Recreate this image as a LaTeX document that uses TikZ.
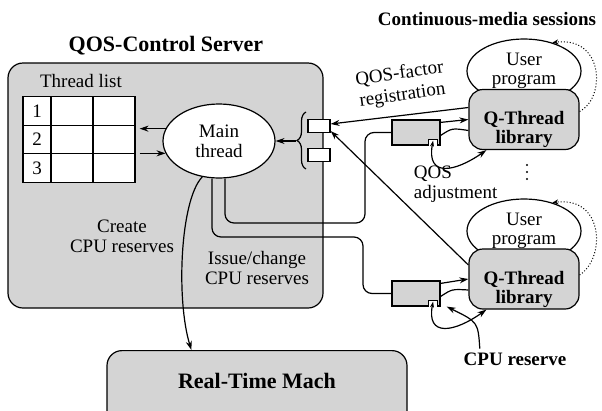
\documentclass[tikz,border=0pt]{standalone}
\usepackage{fontspec}
\setmainfont{Liberation Serif}
\usepackage{tikz}
\usetikzlibrary{arrows.meta, matrix, positioning, shapes.geometric, decorations.pathreplacing}

\tikzset{
  stip/.style={fill=black!17},
  arr/.style={-{Stealth[length=9pt,width=6pt]}},
  biarr/.style={{Stealth[length=6pt,width=4pt]}-{Stealth[length=9pt,width=6pt]}},
  dotloop/.style={dotted, line width=1pt, -{Stealth[open,length=6pt,width=5pt]}},
  bold/.style={font=\fontsize{19}{19}\selectfont\bfseries},
  big/.style={font=\fontsize{22}{22}\selectfont\bfseries},
  sess/.style={ellipse, draw, fill=white, minimum width=114pt, minimum height=64pt, inner sep=0pt, align=center,
               font=\fontsize{19}{18.5}\selectfont},
  lib/.style={draw, stip, rounded corners=14pt, minimum width=110pt, minimum height=60pt},
  qbox/.style={draw, stip, minimum width=48pt, minimum height=25pt, inner sep=0pt},
  port/.style={draw, fill=white, minimum width=22pt, minimum height=13pt, inner sep=0pt}
}

\begin{document}
\begin{tikzpicture}[x=1pt, y=-1pt, line width=1.2pt,
  every node/.style={font=\fontsize{19}{20}\selectfont}]
\useasboundingbox (0,0) rectangle (602,410);
%
% server side
\node (srv) [draw, stip, rounded corners=15pt, minimum width=315pt, minimum height=245pt] at (165.5,185.5) {};
\node (ttl) [big] at (166,46) {QOS-Control Server};
\node (tll) at (81,81) {Thread list};
\matrix (tl) [matrix of nodes, nodes in empty cells,
         column sep=-\pgflinewidth, row sep=-\pgflinewidth,
         nodes={draw, fill=white, anchor=center, minimum width=42pt, minimum height=28.5pt, inner sep=0pt},
         column 1/.style={nodes={minimum width=28pt}}] at (79,139.5)
{
1 & & \\
2 & & \\
3 & & \\
};
\node (main) [ellipse, draw, fill=white, minimum width=112pt, minimum height=74pt, inner sep=0pt, align=center] at (219,141) {Main\\thread};
\draw[arr] (main.167) -- (main.167 -| tl.east);
\draw[arr] (main.193 -| tl.east) -- (main.193);
%
\node (r1) [port] at (319,126) {};
\node (r2) [port] at (319,155) {};
\draw[decorate, decoration={brace, amplitude=9pt}] (306,169) -- (306,112);
\coordinate (bt) at (296,141);
\draw[arr] (bt) -- (main.east);
%
\node (crt) [align=center] at (122,236) {Create\\CPU reserves};
\node (iss) [align=center] at (257,268) {Issue/change\\CPU reserves};
%
% real-time mach
\node (rtm) [draw, stip, rounded corners=15pt, minimum width=300pt, minimum height=100pt, anchor=north] at (257,350) {};
\node (rtmt) [big] at (257,381) {Real-Time Mach};
\draw[arr] (main.245) .. controls (180,200) and (176,300) .. ([xshift=85pt]rtm.north west);
%
% sessions
\node (cms) [bold] at (487,19) {Continuous-media sessions};
\node (up1) [sess] at (524,71) {User\\program};
\node (lib1) [lib] at (524,119.5) {};
\node (lt1) [bold, align=center] at (524,129) {Q-Thread\\library};
\node (up2) [sess] at (524,231) {User\\program};
\node (lib2) [lib] at (524,279) {};
\node (lt2) [bold, align=center] at (524,289) {Q-Thread\\library};
\foreach \y in {165,172,179}
  \fill (527,\y) circle (1.1pt);
\draw[dotloop] ([yshift=8pt]lib1.east) .. controls (606,98) and (604,36) .. (up1.45);
\draw[dotloop] ([yshift=4pt]lib2.east) .. controls (606,258) and (604,196) .. (up2.45);
%
% reserve boxes
\node (qb1) [qbox] at (416,132.5) {};
\node (qb2) [qbox] at (416,293.5) {};
\foreach \b in {qb1,qb2} {
  \fill[white] ([xshift=-12pt,yshift=-1pt]\b.south east) rectangle ([xshift=-3pt,yshift=6pt]\b.south east);
  \draw ([xshift=-12pt]\b.south east) -- ++(0,-6) -- ++(9,0) -- ++(0,6);
}
\draw[rounded corners=9pt] ([xshift=6pt]main.south) |- (365,223) |- (qb1.west);
\draw[rounded corners=9pt] ([xshift=-7pt]main.south) |- (363,237) |- (qb2.west);
%
\draw[arr] ([yshift=-3pt]qb1.north east) -- (lib1.west);
\draw ([yshift=-11pt]lib1.west) .. controls (452,128) .. ([yshift=-3pt]qb1.east);
\draw[biarr] ([xshift=-7.5pt,yshift=5pt]qb1.south east) .. controls (426,178) and (455,172) .. ([xshift=18pt]lib1.south west);
\draw[arr] ([yshift=-3pt]qb2.north east) -- (lib2.west);
\draw ([yshift=-11pt]lib2.west) .. controls (452,289) .. ([yshift=-3pt]qb2.east);
\draw[biarr] ([xshift=-7.5pt,yshift=5pt]qb2.south east) .. controls (426,338) and (455,332) .. ([xshift=18pt]lib2.south west);
%
\draw[arr] ([yshift=12pt]lib1.west) -- ([yshift=2pt]r1.east);
\node (reg) [rotate=8, align=center, font=\fontsize{19}{21.5}\selectfont] at (401,85) {QOS-factor\\registration};
\draw[arr] ([yshift=14pt]lib2.west) -- ([yshift=-5pt]r1.east);
\node (adj) [align=left, anchor=west] at (410,184) {QOS\\adjustment};
%
\node (cpu) [bold] at (515,359) {CPU reserve};
\draw[arr] ([xshift=20pt]cpu.north west) .. controls (478,322) .. ([xshift=6pt]qb2.south east);
%
\end{tikzpicture}
\end{document}
